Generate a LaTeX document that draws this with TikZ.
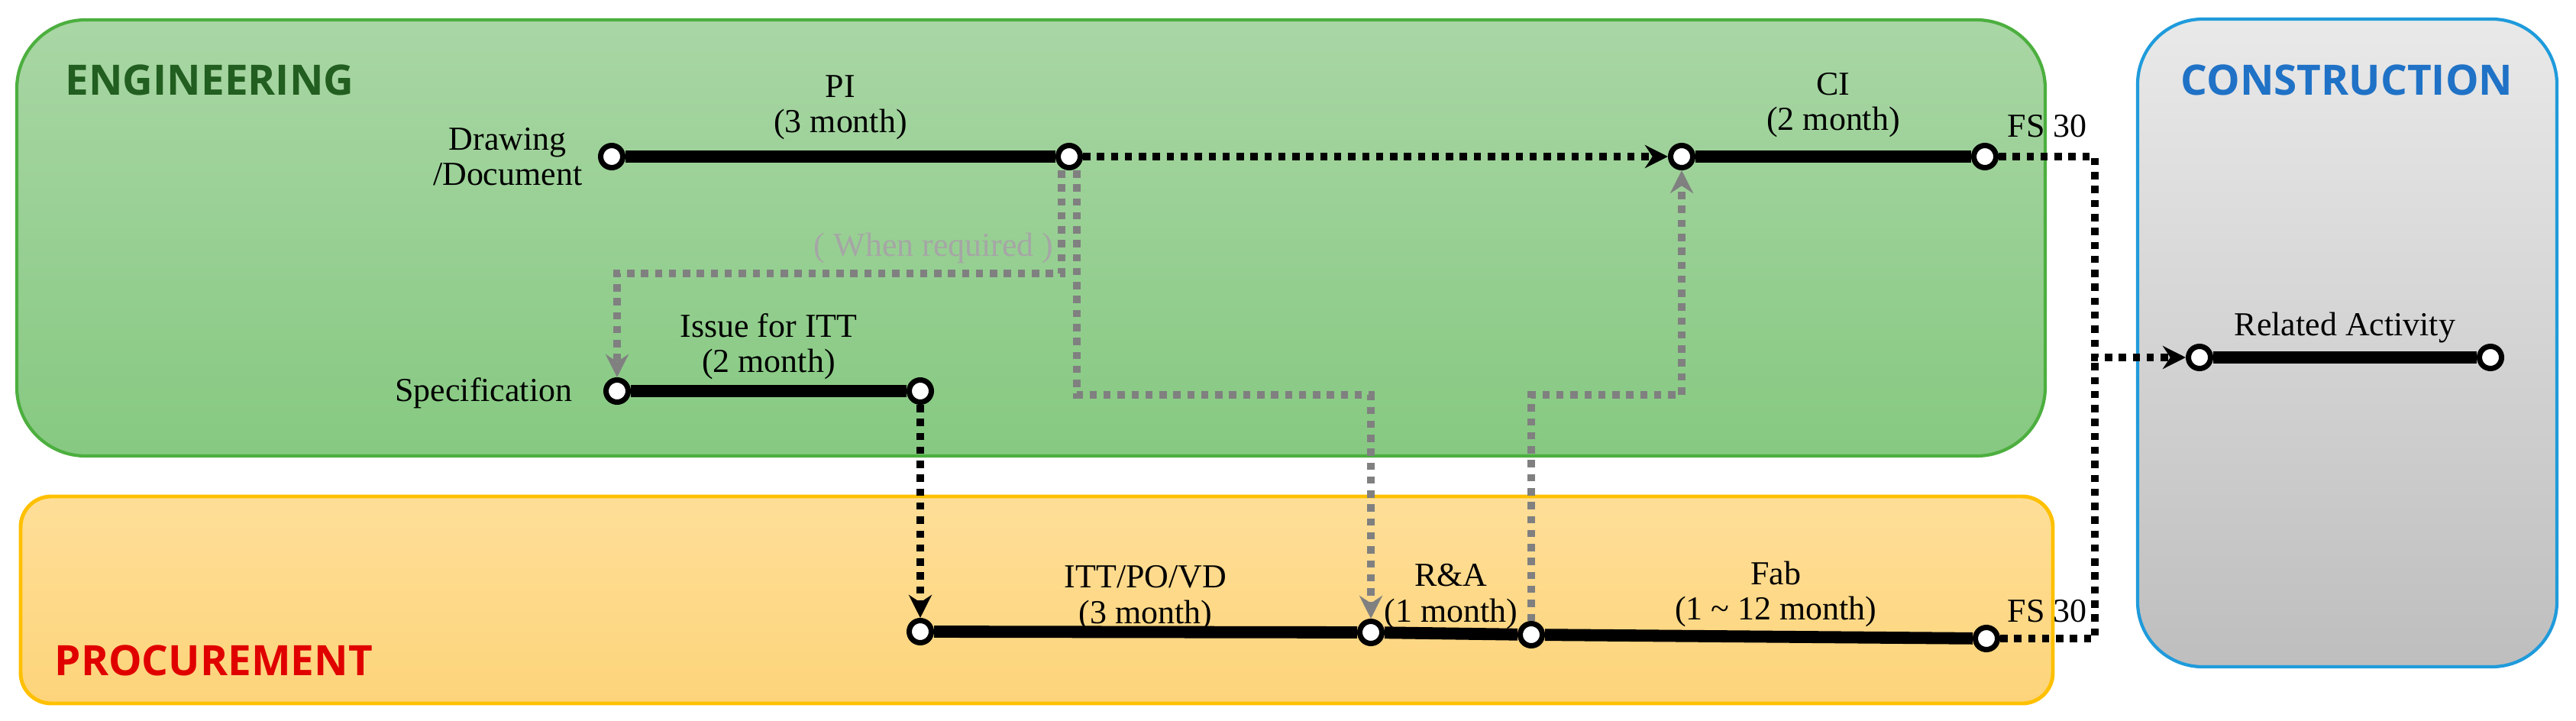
\documentclass[tikz,border=0pt]{standalone}
\usepackage{fontspec}
\setmainfont{Liberation Serif}
\newfontfamily\headfont{Open Sans}
\usetikzlibrary{arrows.meta,positioning}

\pgfdeclarelayer{background}
\pgfsetlayers{background,main}

\definecolor{engTop}{HTML}{A9D6A5}
\definecolor{engBot}{HTML}{86C981}
\definecolor{engLine}{HTML}{4CAF3F}
\definecolor{engText}{HTML}{215E1F}
\definecolor{proTop}{HTML}{FEDE98}
\definecolor{proBot}{HTML}{FDD47A}
\definecolor{proLine}{HTML}{FFC000}
\definecolor{proText}{HTML}{E00000}
\definecolor{conTop}{HTML}{E9E9E9}
\definecolor{conBot}{HTML}{BFBEBF}
\definecolor{conLine}{HTML}{1F9BDB}
\definecolor{conText}{HTML}{1F72C6}
\definecolor{linkGray}{HTML}{808080}
\definecolor{noteGray}{HTML}{A6A6A6}

\tikzset{
  evt/.style={circle,draw,fill=white,line width=2pt,minimum size=0.29cm,inner sep=0pt},
  act/.style={line width=4.5pt},
  dep/.style={line width=2.6pt,dash pattern=on 2.7pt off 2.5pt},
  opt/.style={dep,draw=linkGray},
  tip/.style={-{Stealth[length=0.3cm,width=0.3cm]}},
  lbl/.style={align=center,inner sep=0pt,font=\fontsize{12.5}{13.2}\selectfont},
  head/.style={inner sep=0pt,font=\headfont\bfseries\fontsize{15.6}{18}\selectfont}
}

\begin{document}
\begin{tikzpicture}
\useasboundingbox (0,0) rectangle (33.73,9.43);

\node[evt] at (8.01,7.38) (dwgS) {};
\node[evt] at (14.00,7.38) (piE) {};
\node[evt] at (22.02,7.38) (ciS) {};
\node[evt] at (25.99,7.38) (ciE) {};
\node[evt] at (8.08,4.31) (specS) {};
\node[evt] at (12.05,4.31) (specE) {};
\node[evt] at (12.05,1.16) (ittS) {};
\node[evt] at (17.95,1.15) (raS) {};
\node[evt] at (20.05,1.12) (raE) {};
\node[evt] at (26.01,1.07) (fabE) {};
\node[evt] at (28.80,4.75) (relS) {};
\node[evt] at (32.61,4.75) (relE) {};
\coordinate (jn) at (27.43,4.75);
\coordinate (whenY) at (0,5.85);
\coordinate (midY) at (0,4.26);

\node[head,text=engText,anchor=west] at (0.85,8.38) (engHead) {ENGINEERING};
\node[head,text=proText,anchor=west] at (0.71,0.78) (proHead) {PROCUREMENT};
\node[head,text=conText] at (30.73,8.38) (conHead) {CONSTRUCTION};

\node[lbl,left=0.2cm of dwgS] (dwgLbl) {Drawing\\/Document};
\node[lbl,left=0.4cm of specS,yshift=-0.03cm] (specLbl) {Specification};
\node[lbl,anchor=south west] at ([xshift=0.29cm,yshift=0.245cm]ciE.center) (fsTop) {FS 30};
\node[lbl,anchor=south west] at ([xshift=0.27cm,yshift=0.205cm]fabE.center) (fsBot) {FS 30};

\draw[act] (dwgS) -- node[lbl,above=0.14cm] (piLbl) {PI\\(3 month)} (piE);
\draw[act] (ciS) -- node[lbl,above=0.17cm] (ciLbl) {CI\\(2 month)} (ciE);
\draw[act] (specS) -- node[lbl,above=0.07cm] (issLbl) {Issue for ITT\\(2 month)} (specE);
\draw[act] (ittS) -- node[lbl,above=-0.06cm] (ittLbl) {ITT/PO/VD\\(3 month)} (raS);
\draw[act] (raS) -- node[lbl,above=-0.02cm] (raLbl) {R\&A\\(1 month)} (raE);
\draw[act] (raE) -- node[lbl,above=0.05cm,pos=0.54] (fabLbl) {Fab\\(1 \textasciitilde{} 12 month)} (fabE);
\draw[act] (relS) -- node[lbl,above=0.115cm] (relLbl) {Related Activity} (relE);

\draw[dep,tip] (piE) -- (ciS);
\draw[dep,tip] (specE) -- (ittS);
\draw[dep,tip] (ciE) -| (jn) -- (relS);
\draw[dep] (fabE) -| (jn);
\draw[opt,tip] ([xshift=-0.1cm]piE.south) |- node[lbl,pos=0.5,anchor=south east,text=noteGray,xshift=-0.06cm,yshift=0.09cm] (whenLbl) {( When required )} (specS |- whenY) -- (specS);
\draw[opt,tip] ([xshift=0.1cm]piE.south) |- (raS |- midY) -- (raS);
\draw[opt,tip] (raE) |- (ciS |- midY) -- (ciS);

\begin{pgfonlayer}{background}
\path[draw=engLine,line width=1.2pt,top color=engTop,bottom color=engBot,rounded corners=0.9cm] (0.22,3.46) rectangle (26.78,9.17);
\path[draw=proLine,line width=1.4pt,top color=proTop,bottom color=proBot,rounded corners=0.4cm] (0.27,0.22) rectangle (26.88,2.93);
\path[draw=conLine,line width=1.2pt,top color=conTop,bottom color=conBot,rounded corners=0.85cm] (27.99,0.70) rectangle (33.48,9.18);
\end{pgfonlayer}

\end{tikzpicture}
\end{document}
